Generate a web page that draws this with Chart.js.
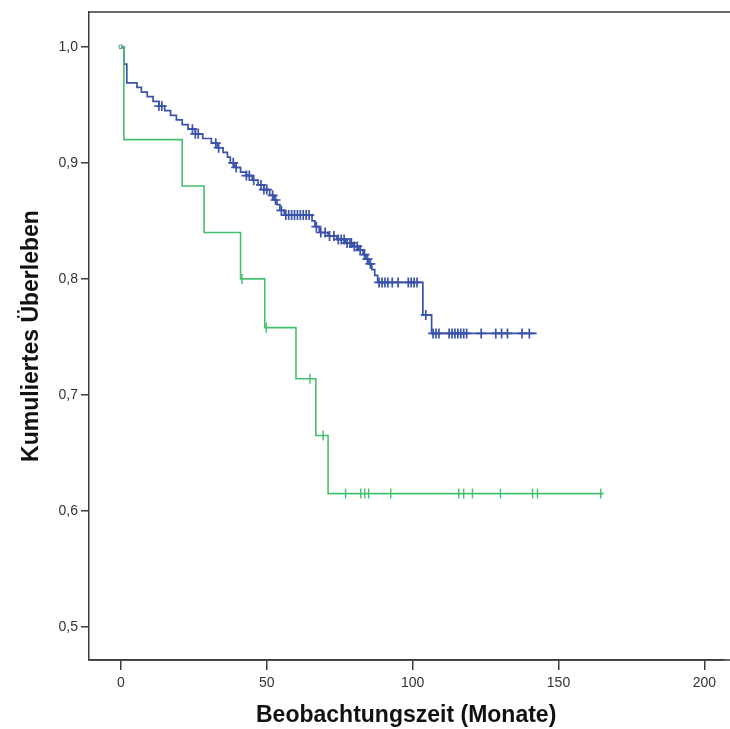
<!DOCTYPE html>
<html>
<head>
<meta charset="utf-8">
<script src="https://cdn.jsdelivr.net/npm/chart.js@4.4.1/dist/chart.umd.min.js"></script>
<style>
  html, body { margin: 0; padding: 0; background: #fff; overflow: hidden; }
  #wrap { width: 730px; height: 729px; }
  canvas { display: block; }
</style>
</head>
<body>
<div id="wrap"><canvas id="myChart"></canvas></div>
<script>
// blue group: event times (months) and survival after each event
var blueTimes = [0, 1, 2, 5.5, 7, 9, 11, 13, 15, 17, 19, 21, 23, 25.5, 28, 31, 33, 35, 36.5, 37.5, 39, 41, 43, 45, 47, 49, 51, 52.5, 53.5, 54.5, 56,
  65.5, 66.5, 68, 71, 74, 77, 79.5, 81.5, 83, 84, 85, 86, 87, 88, 103.5, 106.5];
var blueSurv = [1.0, 0.985, 0.969, 0.965, 0.961, 0.957, 0.953, 0.949, 0.945, 0.941, 0.937, 0.933, 0.929, 0.925, 0.921, 0.917, 0.913, 0.909, 0.905, 0.900, 0.896, 0.892, 0.889, 0.885, 0.881, 0.877, 0.872, 0.868, 0.864, 0.859, 0.855,
  0.850, 0.845, 0.840, 0.837, 0.834, 0.831, 0.828, 0.825, 0.821, 0.817, 0.813, 0.808, 0.803, 0.797, 0.769, 0.753];
var blueEnd = 142.5;
var blueCensor = [13, 14, 24.5, 25.5, 26.5, 32.5, 33.5, 38.5, 39.5, 43, 44, 45.5, 48, 49, 50, 52, 53, 55, 56.5, 57.5, 58.5, 59.5, 60.5, 61.5, 62.5, 63.5, 64.5,
  67, 68.5, 70, 71.5, 73, 74.5, 75.5, 76.5, 77.5, 78.5, 79, 80, 81, 82, 83.5, 84.5, 85.5, 88.5, 89.5, 90.5, 91.5, 93, 95, 98.5, 99.5, 100.5, 101.5,
  104.5, 107, 108, 109, 112.5, 113.5, 114.5, 115.5, 116.5, 117.5, 118.5, 123.5, 128.5, 130.5, 132.5, 137.5, 140];

// green group
var greenTimes = [0, 1, 21, 28.5, 41, 49.3, 60, 66.8, 71];
var greenSurv = [1.0, 0.92, 0.88, 0.84, 0.80, 0.758, 0.714, 0.665, 0.615];
var greenEnd = 165.5;
var greenCensor = [41.5, 49.8, 64.8, 69.3, 77, 82.2, 83.6, 84.9, 92.5, 115.8, 117.5, 120.5, 130.1, 141.1, 142.8, 164.5];

var xTicks = [0, 50, 100, 150, 200];
var yTicks = [0.5, 0.6, 0.7, 0.8, 0.9, 1.0];

function stepLine(times, surv, end) {
  var pts = times.map(function (t, i) { return {x: t, y: surv[i]}; });
  pts.push({x: end, y: surv[surv.length - 1]});
  return pts;
}
function survAt(times, surv, t) {
  var s = surv[0];
  for (var i = 0; i < times.length; i++) { if (times[i] <= t) s = surv[i]; }
  return s;
}
function censorPts(times, surv, cens) {
  return cens.map(function (t) { return {x: t, y: survAt(times, surv, t)}; });
}

var blue = '#3a52aa';
var green = '#45c06c';
var axisColor = '#3a3a3a';

// top and bottom frame lines run to the right edge (plot is cut off there)
var frameLines = {
  id: 'frameLines',
  afterDraw: function (chart) {
    var a = chart.chartArea, c = chart.ctx;
    c.save();
    c.strokeStyle = axisColor;
    c.lineWidth = 1.5;
    c.beginPath();
    c.moveTo(a.left, a.top);
    c.lineTo(chart.width, a.top);
    c.moveTo(a.left, a.bottom);
    c.lineTo(chart.width, a.bottom);
    c.stroke();
    c.restore();
  }
};

var ctx = document.getElementById('myChart').getContext('2d');
var myChart = new Chart(ctx, {
  type: 'scatter',
  data: {
    datasets: [{
        data: stepLine(greenTimes, greenSurv, greenEnd),
        showLine: true, stepped: 'before',
        borderColor: green, borderWidth: 1.6, pointRadius: 0
      }, {
        data: stepLine(blueTimes, blueSurv, blueEnd),
        showLine: true, stepped: 'before',
        borderColor: blue, borderWidth: 1.7, pointRadius: 0
      }, {
        data: censorPts(greenTimes, greenSurv, greenCensor),
        pointStyle: 'line', rotation: 90, pointRadius: 5,
        borderColor: green, borderWidth: 1.4
      }, {
        data: censorPts(blueTimes, blueSurv, blueCensor),
        pointStyle: 'cross', pointRadius: 5,
        borderColor: blue, borderWidth: 1.7
      }, {
        data: [{x: 0, y: 1.0}],
        pointStyle: 'rect', pointRadius: 2.5,
        borderColor: '#6a9a7a', backgroundColor: 'rgba(0,0,0,0)', borderWidth: 1
      }
    ]
  },
  options: {
    responsive: true,
    maintainAspectRatio: false,
    animation: false,
    layout: { padding: { top: 12, right: 0, left: 0, bottom: 0 } },
    plugins: {
      legend: { display: false },
      tooltip: { enabled: false }
    },
    scales: {
      x: {
        type: 'linear', min: -10.96, max: 206.5,
        afterBuildTicks: function (s) { s.ticks = xTicks.map(function (v) { return {value: v}; }); },
        afterFit: function (s) { s.height = 69; },
        grid: { drawOnChartArea: false, drawTicks: true, tickLength: 10, color: axisColor, lineWidth: 1.5 },
        border: { display: true, color: axisColor, width: 1.5 },
        ticks: { color: '#333', font: { family: 'Liberation Sans', size: 14 }, padding: 5 },
        title: {
          display: true, text: 'Beobachtungszeit (Monate)', color: '#111',
          font: { family: 'Liberation Sans', size: 23, weight: 'bold' },
          padding: { top: 8, bottom: 0 }
        }
      },
      y: {
        type: 'linear', min: 0.4716, max: 1.030,
        afterBuildTicks: function (s) { s.ticks = yTicks.map(function (v) { return {value: v}; }); },
        afterFit: function (s) { s.width = 89; },
        grid: { drawOnChartArea: false, drawTicks: true, tickLength: 8, color: axisColor, lineWidth: 1.5 },
        border: { display: true, color: axisColor, width: 1.5 },
        ticks: {
          color: '#333', font: { family: 'Liberation Sans', size: 14 }, padding: 3,
          callback: function (v) { return v.toFixed(1).replace('.', ','); }
        },
        title: {
          display: true, text: 'Kumuliertes Überleben', color: '#111',
          font: { family: 'Liberation Sans', size: 23, weight: 'bold' },
          padding: { top: 18, bottom: 0 }
        }
      }
    }
  },
  plugins: [frameLines]
});
</script>
</body>
</html>
